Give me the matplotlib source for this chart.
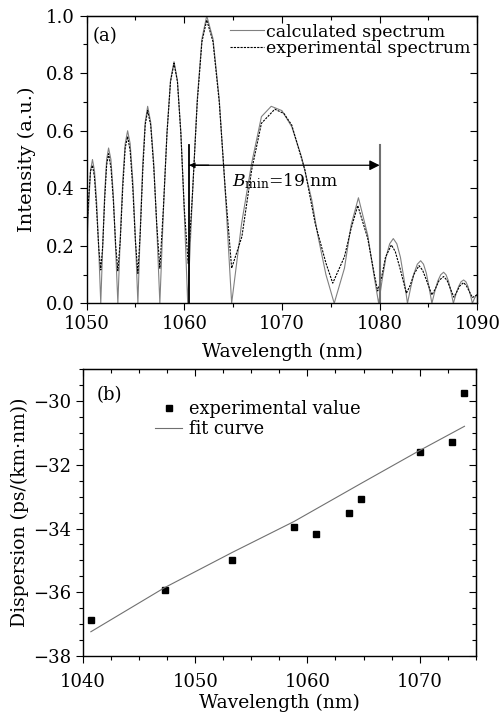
import numpy as np
import matplotlib
matplotlib.use('Agg')
import matplotlib.pyplot as plt
from matplotlib.ticker import MultipleLocator, NullFormatter, FormatStrFormatter

plt.rcParams['font.family'] = ['DejaVu Serif']
plt.rcParams['mathtext.fontset'] = 'dejavuserif'
plt.rcParams['font.size'] = 13

# (a) calculated spectrum
wl_calc = [1050.0, 1050.2, 1050.4, 1050.6, 1050.81, 1051.03, 1051.24, 1051.45,
           1051.65, 1051.85, 1052.05, 1052.25, 1052.49, 1052.73, 1052.96, 1053.2,
           1053.45, 1053.7, 1053.95, 1054.2, 1054.46, 1054.73, 1054.99, 1055.25,
           1055.5, 1055.75, 1056.0, 1056.25, 1056.56, 1056.88, 1057.19, 1057.5,
           1057.86, 1058.23, 1058.59, 1058.95, 1059.3, 1059.65, 1060.0, 1060.35,
           1060.84, 1061.33, 1061.81, 1062.3, 1062.94, 1063.58, 1064.21, 1064.85,
           1065.87, 1066.9, 1067.9, 1068.9, 1070.0, 1071.0, 1072.0, 1073.05,
           1073.65, 1074.5, 1075.35, 1076.4, 1077.08, 1077.83, 1078.78, 1079.47,
           1079.9, 1080.28, 1080.65, 1081.03, 1081.4, 1081.76, 1082.13, 1082.49,
           1082.85, 1083.19, 1083.53, 1083.86, 1084.2, 1084.49, 1084.78, 1085.06,
           1085.35, 1085.65, 1085.95, 1086.25, 1086.55, 1086.8, 1087.05, 1087.3,
           1087.55, 1087.81, 1088.08, 1088.34, 1088.6, 1088.83, 1089.05, 1089.28,
           1089.5, 1089.75, 1090.0]
int_calc = [0.17, 0.33, 0.46, 0.50, 0.46, 0.35, 0.19, 0.0,
            0.20, 0.38, 0.50, 0.54, 0.50, 0.38, 0.20, 0.0,
            0.23, 0.425, 0.555, 0.60, 0.555, 0.425, 0.23, 0.0,
            0.26, 0.485, 0.63, 0.685, 0.63, 0.485, 0.26, 0.0,
            0.32, 0.595, 0.775, 0.84, 0.775, 0.595, 0.32, 0.0,
            0.38, 0.71, 0.92, 1.0, 0.92, 0.71, 0.38, 0.0,
            0.278, 0.487, 0.649, 0.685, 0.67, 0.614, 0.51, 0.36,
            0.24, 0.10, 0.0, 0.122, 0.272, 0.367, 0.237, 0.087,
            0.0, 0.086, 0.16, 0.207, 0.225, 0.207, 0.16, 0.086,
            0.0, 0.056, 0.105, 0.136, 0.148, 0.136, 0.105, 0.056,
            0.0, 0.041, 0.077, 0.099, 0.108, 0.099, 0.077, 0.041,
            0.0, 0.031, 0.058, 0.075, 0.081, 0.075, 0.058, 0.031,
            0.0, 0.02, 0.03]

# (a) experimental spectrum
wl_exp = [1050.0, 1050.2, 1050.4, 1050.6, 1050.8, 1051.0, 1051.25, 1051.45,
          1051.65, 1051.85, 1052.05, 1052.25, 1052.5, 1052.75, 1052.98, 1053.2,
          1053.45, 1053.7, 1053.95, 1054.2, 1054.46, 1054.73, 1054.99, 1055.25,
          1055.5, 1055.75, 1056.0, 1056.25, 1056.56, 1056.88, 1057.19, 1057.5,
          1057.86, 1058.23, 1058.59, 1058.95, 1059.3, 1059.65, 1060.0, 1060.4,
          1060.84, 1061.33, 1061.81, 1062.3, 1062.94, 1063.58, 1064.21, 1064.85,
          1065.9, 1066.9, 1067.9, 1069.27, 1070.2, 1071.0, 1072.35, 1073.4,
          1074.5, 1075.2, 1076.4, 1077.08, 1077.76, 1078.78, 1079.47, 1079.8,
          1080.2, 1080.6, 1081.2, 1081.6, 1082.1, 1082.74, 1083.1, 1083.5,
          1084.03, 1084.4, 1084.8, 1085.35, 1085.7, 1086.1, 1086.55, 1086.9,
          1087.2, 1087.6, 1087.9, 1088.2, 1088.6, 1088.9, 1089.2, 1089.5, 1090.0]
int_exp = [0.24, 0.36, 0.46, 0.48, 0.44, 0.34, 0.19, 0.116,
           0.20, 0.36, 0.48, 0.52, 0.47, 0.35, 0.20, 0.113,
           0.22, 0.40, 0.54, 0.58, 0.53, 0.40, 0.22, 0.104,
           0.25, 0.46, 0.62, 0.67, 0.62, 0.47, 0.27, 0.122,
           0.33, 0.59, 0.77, 0.835, 0.77, 0.59, 0.33, 0.139,
           0.38, 0.70, 0.91, 0.985, 0.91, 0.70, 0.39, 0.122,
           0.232, 0.464, 0.626, 0.675, 0.66, 0.62, 0.464, 0.278,
           0.14, 0.07, 0.162, 0.26, 0.34, 0.226, 0.098, 0.043,
           0.09, 0.16, 0.203, 0.18, 0.12, 0.035, 0.06, 0.10,
           0.131, 0.115, 0.08, 0.029, 0.05, 0.08, 0.093, 0.08,
           0.055, 0.021, 0.04, 0.06, 0.072, 0.06, 0.04, 0.02, 0.03]

band_edges = [1060.5, 1080.0]

# (b) dispersion
wl_disp = [1040.7, 1047.3, 1053.3, 1058.8, 1060.8, 1063.7, 1064.8, 1070.0, 1072.9, 1074.0]
disp = [-36.88, -35.92, -35.0, -33.96, -34.17, -33.52, -33.08, -31.6, -31.28, -29.74]
wl_fit = [1040.7, 1047.3, 1053.3, 1058.8, 1064.8, 1070.0, 1074.0]
disp_fit = [-37.24, -35.85, -34.75, -33.78, -32.58, -31.55, -30.79]

fig = plt.figure(figsize=(5, 7.18), dpi=100)

# ---- panel (a)
ax1 = fig.add_axes([0.1732, 0.5776, 0.7814, 0.4005])
ax1.plot(wl_calc, int_calc, color='#808080', lw=0.8, label='calculated spectrum')
ax1.plot(wl_exp, int_exp, color='black', lw=0.8, ls=(0, (2, 1)), label='experimental spectrum')
ax1.plot([band_edges[0]] * 2, [0, 0.55], color='black', lw=1.3)
ax1.plot([band_edges[1]] * 2, [0, 0.55], color='#707070', lw=1.5)
ax1.annotate('', xy=(band_edges[1], 0.48), xytext=(band_edges[0], 0.48),
             arrowprops=dict(arrowstyle='-|>', mutation_scale=15, lw=0.9, color='black',
                             shrinkA=0, shrinkB=0))
ax1.annotate('', xy=(band_edges[0], 0.48), xytext=(band_edges[0] + 2, 0.48),
             arrowprops=dict(arrowstyle='-|>', mutation_scale=8, lw=0.9, color='black',
                             shrinkA=0, shrinkB=0))
ax1.text(1064.85, 0.425, r'$B_{\rm min}$=19 nm', ha='left', va='center', fontsize=12.3)
ax1.text(0.015, 0.93, '(a)', transform=ax1.transAxes, ha='left', va='center')
ax1.set_xlim(1050, 1090)
ax1.set_ylim(0, 1.0)
ax1.xaxis.set_major_locator(MultipleLocator(10))
ax1.xaxis.set_minor_locator(MultipleLocator(5))
ax1.yaxis.set_major_locator(MultipleLocator(0.2))
ax1.yaxis.set_minor_locator(MultipleLocator(0.1))
ax1.yaxis.set_major_formatter(FormatStrFormatter('%.1f'))
ax1.set_xlabel('Wavelength (nm)', labelpad=7, fontsize=13.5)
ax1.set_ylabel('Intensity (a.u.)', labelpad=7, fontsize=14)
ax1.legend(loc='upper left', bbox_to_anchor=(0.357, 0.985), frameon=False, fontsize=12.5,
           handlelength=2.0, handletextpad=0.1, labelspacing=-0.05, borderpad=0.2,
           borderaxespad=0)

# ---- panel (b)
ax2 = fig.add_axes([0.166, 0.0864, 0.7854, 0.3993])
ax2.plot(wl_disp, disp, 's', color='black', ms=4.5, label='experimental value')
ax2.plot(wl_fit, disp_fit, color='#707070', lw=0.8, label='fit curve')
ax2.text(0.035, 0.91, '(b)', transform=ax2.transAxes, ha='left', va='center')
ax2.set_xlim(1040, 1075)
ax2.set_ylim(-38, -29)
ax2.xaxis.set_major_locator(MultipleLocator(10))
ax2.xaxis.set_minor_locator(MultipleLocator(2.5))
ax2.yaxis.set_major_locator(MultipleLocator(2))
ax2.yaxis.set_minor_locator(MultipleLocator(0.5))
ax2.set_xlabel('Wavelength (nm)', labelpad=2.5, fontsize=13.5)
ax2.set_ylabel('Dispersion (ps/(km\u00b7nm))', labelpad=3, fontsize=13.5)
ax2.legend(loc='upper left', bbox_to_anchor=(0.175, 0.905), frameon=False, fontsize=12.8,
           handlelength=1.5, handletextpad=0.4, labelspacing=0.12, borderpad=0.2,
           borderaxespad=0)

for ax in (ax1, ax2):
    ax.tick_params(which='both', direction='out', width=0.8)
    ax.tick_params(which='major', length=5)
    ax.tick_params(which='minor', length=3)
    for s in ax.spines.values():
        s.set_linewidth(1.0)
    top = ax.secondary_xaxis('top')
    top.xaxis.set_major_locator(ax.xaxis.get_major_locator())
    top.xaxis.set_minor_locator(ax.xaxis.get_minor_locator())
    top.xaxis.set_major_formatter(NullFormatter())
    top.tick_params(which='both', direction='in', width=0.8)
    top.tick_params(which='major', length=5)
    top.tick_params(which='minor', length=3)
    right = ax.secondary_yaxis('right')
    right.yaxis.set_major_locator(ax.yaxis.get_major_locator())
    right.yaxis.set_minor_locator(ax.yaxis.get_minor_locator())
    right.yaxis.set_major_formatter(NullFormatter())
    right.tick_params(which='both', direction='in', width=0.8)
    right.tick_params(which='major', length=5)
    right.tick_params(which='minor', length=3)

ax2.tick_params(axis='x', which='major', pad=7)

fig.savefig('out.png', dpi=100)
